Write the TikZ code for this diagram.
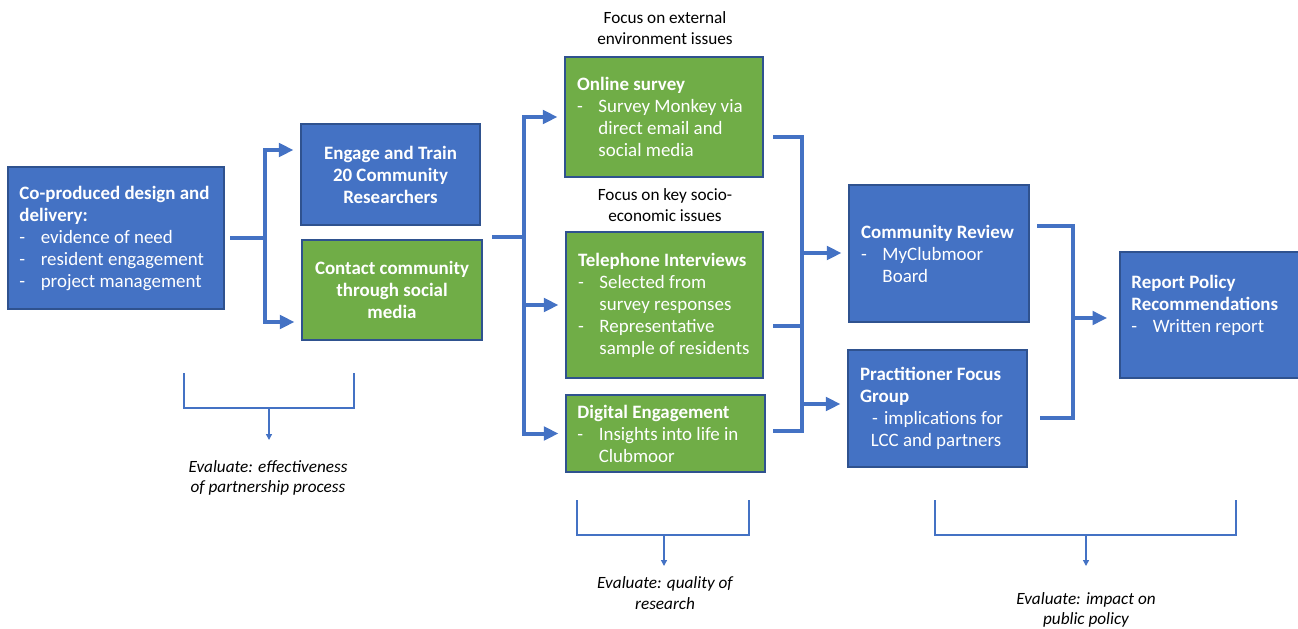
\documentclass[tikz,border=0pt]{standalone}
\usepackage{fontspec}
\setmainfont{Carlito}
\usetikzlibrary{arrows.meta}
\definecolor{boxblue}{HTML}{4472C4}
\definecolor{boxgreen}{HTML}{70AD47}
\definecolor{edgeblue}{HTML}{2F528F}
\newcommand{\dashitem}{\makebox[16pt][l]{-}}
\newcommand{\contline}{\hspace*{16pt}}
\tikzset{
  box/.style = {draw=edgeblue, line width=1.2pt, inner sep=0pt},
  bluebox/.style = {box, fill=boxblue},
  greenbox/.style = {box, fill=boxgreen},
  boxtext/.style = {text=white, font=\fontsize{14.2}{16.5}\selectfont, align=left, anchor=west, inner sep=0pt},
  flow/.style = {draw=boxblue, line width=3pt},
  flowarrow/.style = {flow, -{Triangle[length=11pt,width=10pt]}, shorten >=5pt},
  evalline/.style = {draw=boxblue, line width=1pt},
  evalarrow/.style = {evalline, -{Triangle[length=4.5pt,width=4.5pt]}},
  note/.style = {font=\fontsize{12.9}{15.5}\selectfont, align=center}
}
\begin{document}
\begin{tikzpicture}[x=0.75pt, y=-0.75pt]
        \useasboundingbox (0,0) rectangle (1298,628);
        %boxes
        \node[bluebox, minimum width=162pt, minimum height=106.5pt] (coprod) at (116,238) {};
        \node[boxtext] (coprodtext) at ([xshift=9pt]coprod.west) {\textbf{Co-produced design and}\\ \textbf{delivery:}\\ \dashitem evidence of need\\ \dashitem resident engagement\\ \dashitem project management};
        \node[bluebox, minimum width=134.25pt, minimum height=75.75pt, boxtext, anchor=center, align=center, font=\bfseries\fontsize{14.2}{16.5}\selectfont] (engage) at (390.5,174.5) {Engage and Train\\ 20 Community\\ Researchers};
        \node[greenbox, minimum width=135pt, minimum height=75pt, boxtext, anchor=center, align=center, font=\bfseries\fontsize{14.2}{16.5}\selectfont] (contact) at (392,290) {Contact community\\ through social\\ media};
        \node[greenbox, minimum width=148.5pt, minimum height=90pt] (online) at (664,117) {};
        \node[boxtext] (onlinetext) at ([xshift=9.5pt]online.west) {\textbf{Online survey}\\ \dashitem Survey Monkey via\\ \contline direct email and\\ \contline social media};
        \node[greenbox, minimum width=147.75pt, minimum height=109.5pt] (phone) at (664.5,305) {};
        \node[boxtext] (phonetext) at ([xshift=9.5pt]phone.west) {\textbf{Telephone Interviews}\\ \dashitem Selected from\\ \contline survey responses\\ \dashitem Representative\\ \contline sample of residents};
        \node[greenbox, minimum width=149.25pt, minimum height=57.75pt] (digital) at (665.5,433.5) {};
        \node[boxtext] (digitaltext) at ([xshift=9pt]digital.west) {\textbf{Digital Engagement}\\ \dashitem Insights into life in\\ \contline Clubmoor};
        \node[bluebox, minimum width=135pt, minimum height=102.75pt] (review) at (939,253.5) {};
        \node[boxtext] (reviewtext) at ([xshift=9.5pt]review.west) {\textbf{Community Review}\\ \dashitem MyClubmoor\\ \contline Board};
        \node[bluebox, minimum width=134.25pt, minimum height=87.75pt] (practitioner) at (937.5,408.5) {};
        \node[boxtext] (practitionertext) at ([xshift=9.5pt]practitioner.west) {\textbf{Practitioner Focus}\\ \textbf{Group}\\ \hspace*{9pt}\makebox[9pt][l]{-}implications for\\ \hspace*{8pt}LCC and partners};
        \node[bluebox, minimum width=135pt, minimum height=94.5pt] (report) at (1210,315) {};
        \node[boxtext] (reporttext) at ([xshift=9pt, yshift=7pt]report.west) {\textbf{Report Policy}\\ \textbf{Recommendations}\\ \dashitem Written report};
        %notes
        \node[note] (external) at (665,28) {Focus on external\\ environment issues};
        \node[note] (socio) at (665,205) {Focus on key socio-\\ economic issues};
        %edges
        \coordinate (j1) at (265,238);
        \coordinate (j1top) at (265,150);
        \coordinate (j1bot) at (265,322);
        \path[flow] ([xshift=4pt]coprod.east) -- (j1);
        \path[flowarrow] (j1) -- (j1top) -- (j1top -| engage.west);
        \path[flowarrow] (j1) -- (j1bot) -- (j1bot -| contact.west);
        \coordinate (j2in) at (492,237);
        \coordinate (j2) at (524,237);
        \path[flow] (j2in) -- (j2);
        \path[flowarrow] (j2) -- (j2 |- online.west) -- (online.west);
        \path[flowarrow] (j2 |- phone.west) -- (phone.west);
        \path[flowarrow] (j2) -- (j2 |- digital.west) -- (digital.west);
        \coordinate (m1) at (773,137);
        \coordinate (m2) at (773,326);
        \coordinate (m3) at (773,431);
        \coordinate (j3) at (802,253);
        \path[flow] (m1) -- (m1 -| j3) -- (m3 -| j3) -- (m3);
        \path[flow] (m2) -- (m2 -| j3);
        \path[flowarrow] (j3) -- (j3 -| review.west);
        \coordinate (j3b) at (802,404);
        \path[flowarrow] (j3b) -- (j3b -| practitioner.west);
        \coordinate (r1) at (1037,226);
        \coordinate (r2) at (1040,418);
        \coordinate (j4) at (1073,318);
        \path[flow] (r1) -- (r1 -| j4) -- (r2 -| j4) -- (r2);
        \path[flowarrow, shorten >=9pt] (j4) -- (j4 -| report.west);
        %evaluation
        \coordinate (e1a) at (184,373);
        \coordinate (e1b) at (354,373);
        \coordinate (e1) at (269,408);
        \path[evalline] (e1a) |- (e1b |- e1) -- (e1b);
        \path[evalarrow] (e1) -- ++(0,32);
        \node[note, font=\itshape\fontsize{12.9}{15.5}\selectfont] (evalpartner) at (268,478) {Evaluate: effectiveness\\ of partnership process};
        \coordinate (e2a) at (577,500);
        \coordinate (e2b) at (749,500);
        \coordinate (e2) at (664,535);
        \path[evalline] (e2a) |- (e2b |- e2) -- (e2b);
        \path[evalarrow] (e2) -- ++(0,31);
        \node[note, font=\itshape\fontsize{12.9}{15.5}\selectfont] (evalresearch) at (665,593) {Evaluate: quality of\\ research};
        \coordinate (e3a) at (935,500);
        \coordinate (e3b) at (1236,500);
        \coordinate (e3) at (1086,535);
        \path[evalline] (e3a) |- (e3b |- e3) -- (e3b);
        \path[evalarrow] (e3) -- ++(0,31);
        \node[note, font=\itshape\fontsize{12.9}{15.5}\selectfont] (evalpolicy) at (1086,610) {Evaluate: impact on\\ public policy};
      \end{tikzpicture}
\end{document}
